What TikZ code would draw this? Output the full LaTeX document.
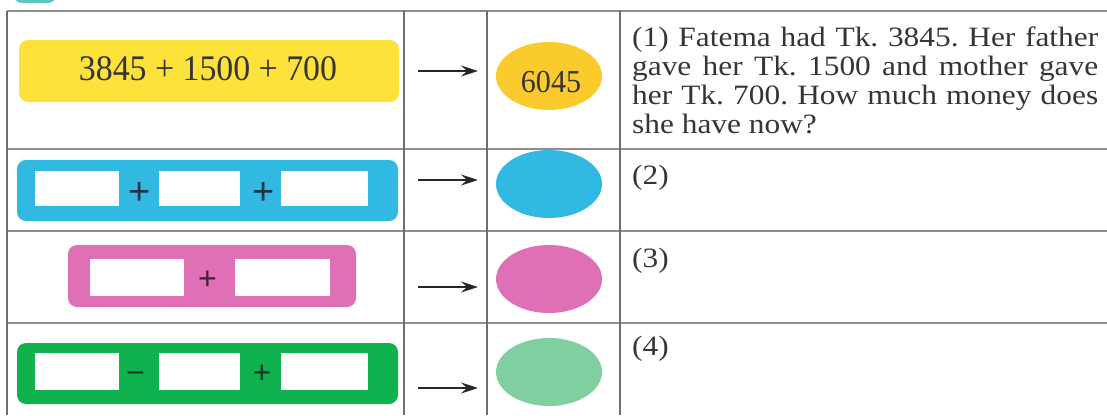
\documentclass[tikz,border=0pt]{standalone}
\usepackage{fontspec}
\setmainfont{Liberation Serif}
\newfontfamily\signfont{Liberation Sans}
\newfontfamily\storyfont{Liberation Serif}[FakeStretch=1.12]
\newfontfamily\sumfont{Liberation Serif}[FakeStretch=0.94]
\usetikzlibrary{arrows.meta}
\usetikzlibrary{shapes.geometric}
\definecolor{sumyellow}{HTML}{FDE23C}
\definecolor{ansyellow}{HTML}{FBCB2E}
\definecolor{sumblue}{HTML}{31B9E1}
\definecolor{sumpink}{HTML}{E070B6}
\definecolor{sumgreen}{HTML}{10B14F}
\definecolor{ansgreen}{HTML}{80CFA0}
\definecolor{colgray}{HTML}{6E6E6E}
\definecolor{rowgray}{HTML}{8E8E8E}
\definecolor{inkgray}{HTML}{353535}
\definecolor{tealtab}{HTML}{5CC6C2}
\definecolor{signblue}{HTML}{1E3446}
\definecolor{signpink}{HTML}{4A1E3A}
\definecolor{signgreen}{HTML}{123D22}
\hbadness=10000
\frenchspacing

\tikzset{
  sumbox/.style={rectangle, rounded corners=9pt, inner sep=0pt, minimum height=62pt},
  slot/.style={rectangle, fill=white, inner sep=0pt},
  sign/.style={anchor=base, inner sep=0pt, font=\signfont\fontsize{#1}{#1}\selectfont},
  answer/.style={ellipse, inner sep=0pt, minimum width=106pt, minimum height=68pt},
  toarrow/.style={-{Stealth[length=17pt,width=11pt,inset=6pt]}, line width=1.6pt, draw=black!85},
  para/.style={anchor=base west, inner sep=0pt, text=inkgray, text width=466pt, align=justify,
    font=\storyfont\fontsize{28}{29.3}\selectfont},
  colline/.style={draw=colgray, line width=1.7pt},
  rowline/.style={draw=rowgray, line width=1.6pt}
}

\begin{document}
\begin{tikzpicture}[x=1pt, y=-1pt]
\useasboundingbox (0,0) rectangle (1107,415);
\fill[tealtab, rounded corners=8pt] (14,-30) rectangle (56,3);

% table
\draw[rowline] (7,11) -- (1107,11);
\draw[rowline] (7,149) -- (1107,149);
\draw[rowline] (7,231) -- (1107,231);
\draw[rowline] (7,323) -- (1107,323);
\draw[colline] (7,11) -- (7,415);
\draw[colline] (404,11) -- (404,415);
\draw[colline] (487,11) -- (487,415);
\draw[colline] (620,11) -- (620,415);

% row 1
\node[sumbox, fill=sumyellow, minimum width=380pt] (sum1) at (209,71) {};
\node[anchor=base, inner sep=0pt, text=inkgray, font=\sumfont\fontsize{36}{36}\selectfont] (sum1txt) at (208,80) {3845 + 1500 + 700};
\coordinate (from1) at (418,71);
\coordinate (to1) at (478,71);
\draw[toarrow] (from1) -- (to1);
\node[answer, fill=ansyellow] (ans1) at (549,76) {};
\node[anchor=base, inner sep=0pt, text=inkgray, font=\sumfont\fontsize{32}{32}\selectfont] (ans1txt) at (551,92) {6045};
\node[para] (story1) at (632,46) {(1) Fatema had Tk. 3845. Her father\linebreak gave her Tk. 1500 and mother gave\linebreak her Tk. 700. How much money does\linebreak she have now?};

% row 2
\node[sumbox, fill=sumblue, minimum width=381pt, minimum height=61pt] (sum2) at (207.5,190.5) {};
\node[slot, minimum width=84pt, minimum height=35pt] (slot2a) at (77,188.5) {};
\node[slot, minimum width=81pt, minimum height=35pt] (slot2b) at (199.5,188.5) {};
\node[slot, minimum width=87pt, minimum height=35pt] (slot2c) at (324.5,188.5) {};
\node[sign=38, text=signblue] (plus2a) at (140,204.8) {+};
\node[sign=38, text=signblue] (plus2b) at (264,204.8) {+};
\coordinate (from2) at (418,180);
\coordinate (to2) at (478,180);
\draw[toarrow] (from2) -- (to2);
\node[answer, fill=sumblue] (ans2) at (549,184) {};
\node[para] (story2) at (632,184) {(2)};

% row 3
\node[sumbox, fill=sumpink, minimum width=288pt] (sum3) at (212,276) {};
\node[slot, minimum width=94pt, minimum height=37pt] (slot3a) at (137,277.5) {};
\node[slot, minimum width=95pt, minimum height=37pt] (slot3b) at (282.5,277.5) {};
\node[sign=32, text=signpink] (plus3) at (207.5,289.2) {+};
\coordinate (from3) at (418,287);
\coordinate (to3) at (478,287);
\draw[toarrow] (from3) -- (to3);
\node[answer, fill=sumpink] (ans3) at (549,279) {};
\node[para] (story3) at (632,267) {(3)};

% row 4
\node[sumbox, fill=sumgreen, minimum width=381pt, minimum height=61pt] (sum4) at (207.5,373.5) {};
\node[slot, minimum width=84pt, minimum height=37pt] (slot4a) at (77,371.5) {};
\node[slot, minimum width=81pt, minimum height=37pt] (slot4b) at (199.5,371.5) {};
\node[slot, minimum width=87pt, minimum height=37pt] (slot4c) at (324.5,371.5) {};
\node[sign=32, text=signgreen] (minus4) at (135.5,383.2) {\symbol{"2212}};
\node[sign=32, text=signgreen] (plus4) at (262,383.7) {+};
\coordinate (from4) at (418,388);
\coordinate (to4) at (478,388);
\draw[toarrow] (from4) -- (to4);
\node[answer, fill=ansgreen] (ans4) at (549,372) {};
\node[para] (story4) at (632,355) {(4)};
\end{tikzpicture}
\end{document}
